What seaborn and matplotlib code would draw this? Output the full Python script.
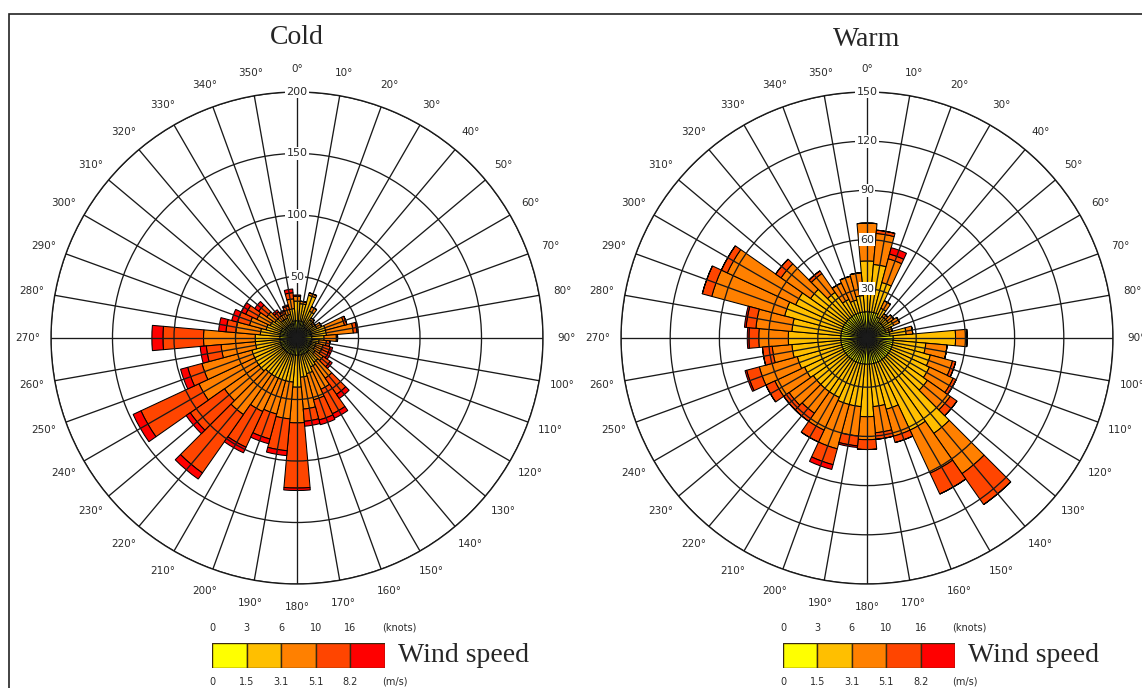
import numpy as np
import matplotlib
matplotlib.use('Agg')
import matplotlib.pyplot as plt
from matplotlib.patches import Rectangle
import seaborn as sns

# ---------------- data ----------------
directions = list(range(0, 360, 10))
speed_colors = ['#FFFF00', '#FFBF00', '#FF8000', '#FF4500', '#FF0000']
knots_labels = ['0', '3', '6', '10', '16']
ms_labels = ['0', '1.5', '3.1', '5.1', '8.2']

# Cold season: counts per direction for each speed class
cold_c1 = [14, 14, 14, 12, 10, 10, 12, 12, 12, 12, 12, 12, 12, 12, 14, 14, 14, 14,
           14, 14, 14, 14, 14, 14, 14, 14, 14, 14, 14, 14, 14, 12, 12, 12, 12, 14]
cold_c2 = [16, 14, 22, 12, 8, 6, 6, 12, 12, 10, 6, 4, 4, 6, 10, 12, 16, 18,
           26, 22, 22, 22, 22, 24, 24, 24, 20, 20, 16, 12, 10, 10, 6, 6, 8, 10]
cold_c3 = [4, 2, 2, 4, 2, 2, 4, 16, 22, 10, 6, 6, 6, 8, 16, 20, 22, 26,
           29, 30, 28, 30, 40, 34, 50, 42, 28, 42, 20, 14, 12, 8, 4, 4, 4, 8]
cold_c4 = [0, 0, 0, 0, 0, 0, 0, 2, 3, 1, 3, 6, 6, 7, 16, 22, 17, 10,
           53, 26, 21, 32, 58, 34, 52, 12, 12, 33, 8, 10, 10, 8, 4, 2, 3, 5]
cold_c5 = [1, 0, 0, 0, 0, 0, 0, 0, 1, 0, 0, 2, 2, 2, 4, 4, 4, 4,
           2, 4, 4, 5, 6, 4, 7, 6, 5, 9, 6, 5, 4, 4, 2, 1, 1, 3]

# Warm season
warm_c1 = [16, 16, 16, 14, 12, 12, 12, 12, 14, 16, 16, 16, 16, 16, 16, 16, 16, 16,
           16, 16, 16, 16, 16, 16, 16, 16, 16, 16, 16, 16, 16, 16, 16, 16, 16, 16]
warm_c2 = [31, 29, 19, 6, 4, 4, 6, 2, 10, 38, 20, 24, 26, 29, 55, 46, 29, 26,
           32, 26, 26, 24, 24, 24, 26, 28, 30, 32, 30, 36, 32, 26, 18, 10, 8, 10]
warm_c3 = [23, 19, 15, 5, 2, 4, 4, 2, 4, 7, 13, 14, 16, 17, 30, 29, 17, 16,
           14, 18, 28, 22, 16, 18, 20, 24, 12, 18, 22, 46, 46, 22, 14, 11, 15, 14]
warm_c4 = [0, 2, 3, 0, 0, 0, 0, 0, 0, 0, 0, 2, 2, 5, 23, 14, 4, 4,
           6, 6, 10, 8, 6, 4, 6, 8, 6, 6, 6, 6, 4, 4, 2, 0, 0, 0]
warm_c5 = [0, 0, 4, 0, 0, 0, 0, 0, 0, 0, 0, 0, 0, 0, 0, 0, 0, 0,
           0, 1, 3, 0, 0, 0, 0, 1, 0, 1, 1, 0, 0, 0, 0, 0, 0, 0]

cold_rticks = [50, 100, 150, 200]
warm_rticks = [30, 60, 90, 120, 150]

# ---------------- style ----------------
sns.set_style('white')
plt.rcParams['font.family'] = ['DejaVu Sans']
palette = sns.color_palette(speed_colors)

fig = plt.figure(figsize=(11.42, 6.88), dpi=100)
W, H = 1142.0, 688.0

# outer frame
fig.patches.append(Rectangle((9 / W, -0.05), 1.2, 1 - 14 / H + 0.05, transform=fig.transFigure,
                             fill=False, edgecolor='#222222', linewidth=1.2, clip_on=False))

label_color = '#2b2b2b'


def windrose(cx, cy, R, classes, rticks, title, ty):
    ax = fig.add_axes([(cx - R) / W, (H - cy - R) / H, 2 * R / W, 2 * R / H], projection='polar')
    ax.set_theta_zero_location('N')
    ax.set_theta_direction(-1)
    theta = np.deg2rad(directions)
    width = np.deg2rad(10)
    bottom = np.zeros(len(directions))
    for vals, col in zip(classes, palette):
        vals = np.array(vals, dtype=float)
        ax.bar(theta, vals, width=width, bottom=bottom, color=col, edgecolor='black',
               linewidth=0.75, zorder=1)
        bottom = bottom + vals
    rmax = rticks[-1]
    ax.set_ylim(0, rmax)
    ax.set_yticks(rticks)
    ax.set_yticklabels([])
    ax.set_xticks(theta)
    ax.set_xticklabels([])
    ax.set_axisbelow(False)
    ax.grid(True, color='#1a1a1a', linewidth=0.95)
    ax.spines['polar'].set_color('#1a1a1a')
    ax.spines['polar'].set_linewidth(1.0)
    for r in rticks:
        ax.text(0, r, str(r), ha='center', va='center', fontsize=8, color=label_color, zorder=6,
                bbox=dict(boxstyle='square,pad=0.12', fc='white', ec='none'))
    for d in directions:
        ax.text(np.deg2rad(d), rmax * 1.095, f'{d}°', ha='center', va='center', fontsize=7.5,
                color=label_color, clip_on=False)
    fig.text(cx / W, 1 - ty / H, title, ha='center', va='center', fontsize=20,
             family=['Liberation Serif', 'DejaVu Serif'])
    return ax


windrose(297, 338, 246, [cold_c1, cold_c2, cold_c3, cold_c4, cold_c5], cold_rticks, 'Cold', 37)
windrose(867, 338, 246, [warm_c1, warm_c2, warm_c3, warm_c4, warm_c5], warm_rticks, 'Warm', 40)


def legend(x0, x1):
    lax = fig.add_axes([x0 / W, (H - 668) / H, (x1 - x0) / W, 25 / H])
    lax.bar(range(5), [1] * 5, width=1.0, color=palette, edgecolor='#3a2a10', linewidth=1.0)
    lax.set_xlim(-0.5, 4.5)
    lax.set_ylim(0, 1)
    lax.axis('off')
    step = (x1 - x0) / 5
    for i in range(5):
        fig.text((x0 + i * step) / W, 1 - 628 / H, knots_labels[i], ha='center', va='center',
                 fontsize=7, color=label_color)
        fig.text((x0 + i * step) / W, 1 - 682 / H, ms_labels[i], ha='center', va='center',
                 fontsize=7, color=label_color)
    fig.text((x1 - 3) / W, 1 - 628 / H, '(knots)', ha='left', va='center', fontsize=7,
             color=label_color)
    fig.text((x1 - 3) / W, 1 - 682 / H, '(m/s)', ha='left', va='center', fontsize=7,
             color=label_color)
    fig.text((x1 + 13) / W, 1 - 656 / H, 'Wind speed', ha='left', va='center', fontsize=20,
             family=['Liberation Serif', 'DejaVu Serif'])


legend(212, 385)
legend(783, 955)

fig.savefig('out.png', dpi=100)
